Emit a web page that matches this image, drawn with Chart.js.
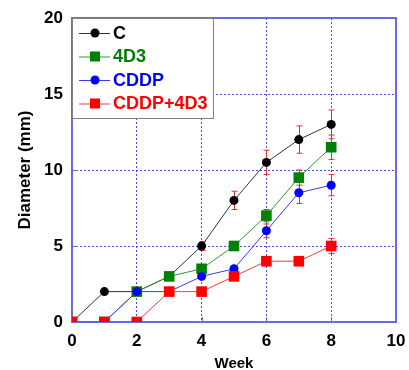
<!DOCTYPE html>
<html><head><meta charset="utf-8">
<script src="https://cdn.jsdelivr.net/npm/chart.js@4/dist/chart.umd.min.js"></script>
<style>html,body{margin:0;padding:0;background:#fff}#wrap{width:409px;height:370px}</style>
</head><body><div id="wrap"><canvas id="c" width="409" height="370"></canvas></div>
<script>
const weeks = [0,1,2,3,4,5,6,7,8];
const seriesNames = ['C','4D3','CDDP','CDDP+4D3'];
const valC     = [0,2,2,3,5,8,10.5,12,13];
const val4D3   = [0,0,2,3,3.5,5,7,9.5,11.5];
const valCDDP  = [0,0,2,2,3,3.5,6,8.5,9];
const valCombo = [0,0,0,2,2,3,4,4,5];
const errC     = [0,0,0,0,0.3,0.6,0.8,0.9,0.95];
const err4D3   = [0,0,0,0,0,0.3,0.4,0.5,0.8];
const errCDDP  = [0,0,0,0,0,0,0.45,0.7,0.7];
const errCombo = [0,0,0,0,0,0,0.3,0.3,0.5];
const xTicks = [0,2,4,6,8,10];
const yTicks = [0,5,10,15,20];

const colors = ['#000000','#008000','#0000ff','#ff0000'];
const lineColors = ['#333333','#2e9a2e','#3a3af0','#ff3a3a'];
const styles = ['circle','rect','circle','rect'];
const radii = [4.5,7.5,4.5,7.5];
const vals = [valC,val4D3,valCDDP,valCombo];
const errs = [errC,err4D3,errCDDP,errCombo];
const FONT = "'Liberation Sans', Arial, sans-serif";

const datasets = vals.map((v,i)=>({
  label: seriesNames[i],
  data: weeks.map((w,j)=>({x:w,y:v[j]})),
  borderColor: lineColors[i],
  borderWidth: 1,
  backgroundColor: colors[i],
  pointBackgroundColor: colors[i],
  pointBorderColor: colors[i],
  pointBorderWidth: 0,
  pointStyle: styles[i],
  pointRadius: radii[i],
  order: 4-i,
  tension: 0
}));

const errPlugin = {
  id:'err',
  beforeDatasetsDraw(chart){
    const {ctx, scales:{x,y}} = chart;
    ctx.save();
    ctx.strokeStyle = '#e03030';
    ctx.lineWidth = 1;
    errs.forEach((e,i)=>{
      e.forEach((d,j)=>{
        if(!d) return;
        const px = Math.round(x.getPixelForValue(weeks[j]))+0.5;
        const y1 = y.getPixelForValue(vals[i][j]+d);
        const y2 = y.getPixelForValue(vals[i][j]-d);
        ctx.beginPath();
        ctx.moveTo(px,y1); ctx.lineTo(px,y2);
        ctx.moveTo(px-3,y1); ctx.lineTo(px+3,y1);
        ctx.moveTo(px-3,y2); ctx.lineTo(px+3,y2);
        ctx.stroke();
      });
    });
    const a = chart.chartArea;
    ctx.strokeStyle = '#6a6ae0';
    ctx.lineWidth = 2;
    ctx.strokeRect(a.left, a.top, a.right-a.left, a.bottom-a.top);
    ctx.lineWidth = 1;
    ctx.beginPath();
    xTicks.forEach(t=>{const px=Math.round(x.getPixelForValue(t))+0.5; ctx.moveTo(px,a.bottom); ctx.lineTo(px,a.bottom-5);});
    yTicks.forEach(t=>{const py=Math.round(y.getPixelForValue(t))+0.5; ctx.moveTo(a.left,py); ctx.lineTo(a.left+5,py);});
    ctx.stroke();
    ctx.restore();
  },
  afterDatasetsDraw(chart){
    const {ctx} = chart;
    const a = chart.chartArea;
    ctx.save();
    const bx = a.left, by = a.top, bw = 141, bh = 100;
    ctx.fillStyle = '#ffffff';
    ctx.fillRect(bx, by, bw, bh);
    ctx.strokeStyle = '#808080';
    ctx.lineWidth = 1;
    ctx.strokeRect(bx+0.5, by+0.5, bw, bh);
    ctx.font = "bold 18px " + FONT;
    ctx.textBaseline = 'middle';
    seriesNames.forEach((n,i)=>{
      const cy = by + 15 + i*23.5;
      ctx.strokeStyle = lineColors[i];
      ctx.lineWidth = 1;
      ctx.beginPath(); ctx.moveTo(bx+7,cy+0.5); ctx.lineTo(bx+38,cy+0.5); ctx.stroke();
      ctx.fillStyle = colors[i];
      if(styles[i]==='circle'){ ctx.beginPath(); ctx.arc(bx+23,cy,4.5,0,Math.PI*2); ctx.fill(); }
      else { ctx.fillRect(bx+18,cy-5,10,10); }
      ctx.fillText(n, bx+41, cy+1);
    });
    ctx.restore();
  }
};

new Chart(document.getElementById('c'), {
  type:'line',
  data:{datasets},
  options:{
    responsive:false,
    animation:false,
    devicePixelRatio:1,
    layout:{padding:{top:18,right:13,left:0,bottom:0}},
    plugins:{legend:{display:false},tooltip:{enabled:false}},
    scales:{
      x:{
        type:'linear', min:0, max:10,
        afterFit(s){ s.height = 48; s.paddingLeft = 0; s.paddingRight = 0; },
        afterBuildTicks(s){ s.ticks = xTicks.map(v=>({value:v})); },
        ticks:{color:'#000', padding:9, font:{family:FONT, size:17, weight:'bold'}},
        grid:{color:'#4a4ae0', lineWidth:1, drawTicks:false},
        border:{display:false, dash:[2,2]},
        title:{display:true, text:'Week', color:'#000', font:{family:FONT,size:15,weight:'bold'}, padding:{top:0,bottom:-3}}
      },
      y:{
        min:0, max:20,
        afterFit(s){ s.width = 72; s.paddingTop = 0; s.paddingBottom = 0; },
        afterBuildTicks(s){ s.ticks = yTicks.map(v=>({value:v})); },
        ticks:{color:'#000', padding:9, font:{family:FONT, size:17, weight:'bold'}},
        grid:{color:'#4a4ae0', lineWidth:1, drawTicks:false},
        border:{display:false, dash:[2,2]},
        title:{display:true, text:'Diameter (mm)', color:'#000', font:{family:FONT,size:17,weight:'bold'}, padding:{top:15,bottom:0}}
      }
    }
  },
  plugins:[errPlugin]
});
</script></body></html>
